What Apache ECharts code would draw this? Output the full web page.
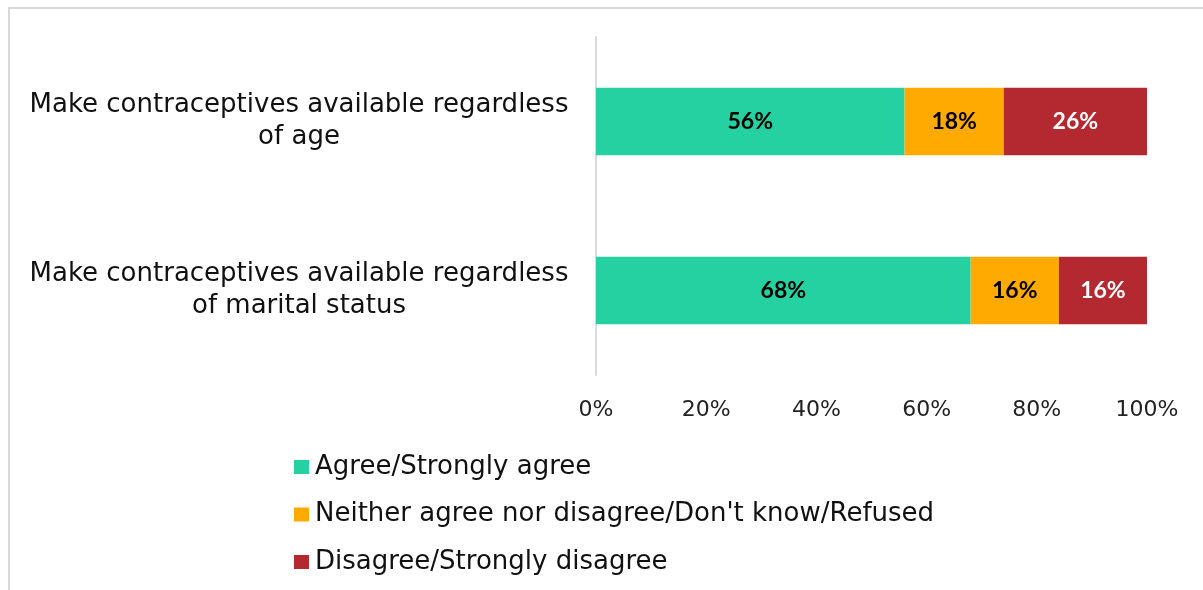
<!DOCTYPE html>
<html><head><meta charset="utf-8">
<script src="https://cdn.jsdelivr.net/npm/echarts@6/dist/echarts.min.js"></script>
<style>html,body{margin:0;padding:0;background:#fff}#c{width:1203px;height:590px}</style>
</head><body><div id="c"></div>
<script>
const categories = ['Make contraceptives available regardless\nof age', 'Make contraceptives available regardless\nof marital status'];
const seriesNames = ['Agree/Strongly agree', 'Neither agree nor disagree/Don\'t know/Refused', 'Disagree/Strongly disagree'];
const agree = [56, 68];
const neither = [18, 16];
const disagree = [26, 16];
const xTicks = [0, 20, 40, 60, 80, 100];
const colors = ['#25D1A1', '#FFAA00', '#B4292F'];
const labelColors = ['#000', '#000', '#fff'];
const FONT = 'DejaVu Sans';
const BOLD = 'Lato';

const chart = echarts.init(document.getElementById('c'));
const mk = (name, data, i) => ({
  name, type: 'bar', stack: 't', data, barWidth: '40%',
  itemStyle: {color: colors[i]},
  label: {show: true, position: 'inside', formatter: '{c}%', color: labelColors[i],
    fontFamily: BOLD, fontWeight: 'bold', fontSize: 23},
  emphasis: {disabled: true}
});
chart.setOption({
  animation: false,
  textStyle: {fontFamily: FONT},
  graphic: [{type: 'rect', shape: {x: 9, y: 8, width: 1300, height: 700},
    style: {fill: 'none', stroke: '#d9d9d9', lineWidth: 2}, silent: true}],
  grid: {left: 596, right: 56, top: 37, bottom: 215},
  xAxis: {type: 'value', min: 0, max: 100, interval: 20,
    axisLabel: {formatter: v => xTicks.includes(v) ? v + '%' : '', fontSize: 22, color: '#222', margin: 24, fontFamily: FONT},
    splitLine: {show: false}, axisLine: {show: false}, axisTick: {show: false}},
  yAxis: {type: 'category', data: categories, inverse: true,
    axisLine: {show: true, lineStyle: {color: '#d9d9d9', width: 2}},
    axisTick: {show: false},
    axisLabel: {align: 'center', margin: 297, fontSize: 26, lineHeight: 32, color: '#111', fontFamily: FONT, padding: [4,0,0,0]}},
  legend: {orient: 'vertical', left: 289, top: 449, itemGap: 21.5, itemWidth: 15, itemHeight: 14,
    icon: 'rect', textStyle: {fontSize: 26, color: '#111', fontFamily: FONT, padding: [0,0,0,1]},
    data: seriesNames},
  series: [mk(seriesNames[0], agree, 0), mk(seriesNames[1], neither, 1), mk(seriesNames[2], disagree, 2)]
});
</script></body></html>
